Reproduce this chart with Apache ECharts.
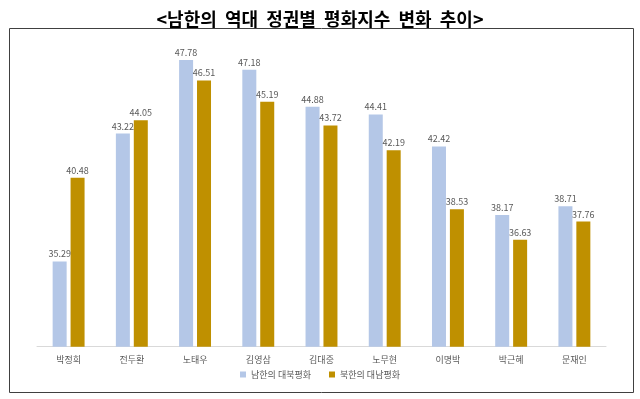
<!DOCTYPE html>
<html>
<head>
<meta charset="utf-8">
<script src="https://cdn.jsdelivr.net/npm/echarts@6/dist/echarts.min.js"></script>
<style>
  html, body { margin: 0; padding: 0; background: #fff; }
  #main { width: 640px; height: 399px; }
</style>
</head>
<body>
<div id="main"></div>
<script>
// 정권별 카테고리
var categories = ["박정희", "전두환", "노태우", "김영삼", "김대중", "노무현", "이명박", "박근혜", "문재인"];
// 남한의 대북평화
var southValues = [35.29, 43.22, 47.78, 47.18, 44.88, 44.41, 42.42, 38.17, 38.71];
// 북한의 대남평화
var northValues = [40.48, 44.05, 46.51, 45.19, 43.72, 42.19, 38.53, 36.63, 37.76];
var seriesNames = ["남한의 대북평화", "북한의 대남평화"];

var FONT = "'Noto Sans CJK KR', 'Noto Sans', sans-serif";
var chart = echarts.init(document.getElementById("main"));

var labelStyle = {
  show: true,
  position: "top",
  distance: 3,
  color: "#595959",
  fontSize: 9,
  fontFamily: FONT,
  formatter: function (p) { return p.value.toFixed(2); }
};

chart.setOption({
  animation: false,
  textStyle: { fontFamily: FONT },
  title: {
    text: "<남한의  역대  정권별  평화지수  변화  추이>",
    left: "center",
    top: 5,
    textStyle: { fontSize: 18, fontWeight: "bold", color: "#000", fontFamily: FONT }
  },
  // 바깥 테두리
  graphic: [{
    type: "rect",
    shape: { x: 9.5, y: 28.5, width: 624, height: 364 },
    style: { fill: "none", stroke: "#404040", lineWidth: 1 },
    silent: true
  }],
  grid: { left: 37, right: 34, top: 24.3, bottom: 52.3 },
  legend: {
    data: seriesNames,
    bottom: 15,
    left: "center",
    icon: "rect",
    itemWidth: 6,
    itemHeight: 6,
    itemGap: 18,
    textStyle: { fontSize: 9, color: "#595959", fontFamily: FONT }
  },
  xAxis: {
    type: "category",
    data: categories,
    axisLine: { lineStyle: { color: "#d9d9d9" } },
    axisTick: { show: false },
    axisLabel: { color: "#595959", fontSize: 9, margin: 8, fontFamily: FONT }
  },
  yAxis: {
    type: "value",
    min: 30,
    max: 50,
    show: false
  },
  series: [
    {
      name: seriesNames[0],
      type: "bar",
      data: southValues,
      barWidth: 14,
      barGap: "28%",
      itemStyle: { color: "#B4C7E7" },
      label: labelStyle
    },
    {
      name: seriesNames[1],
      type: "bar",
      data: northValues,
      barWidth: 14,
      itemStyle: { color: "#BF9000" },
      label: labelStyle
    }
  ]
});
</script>
</body>
</html>
